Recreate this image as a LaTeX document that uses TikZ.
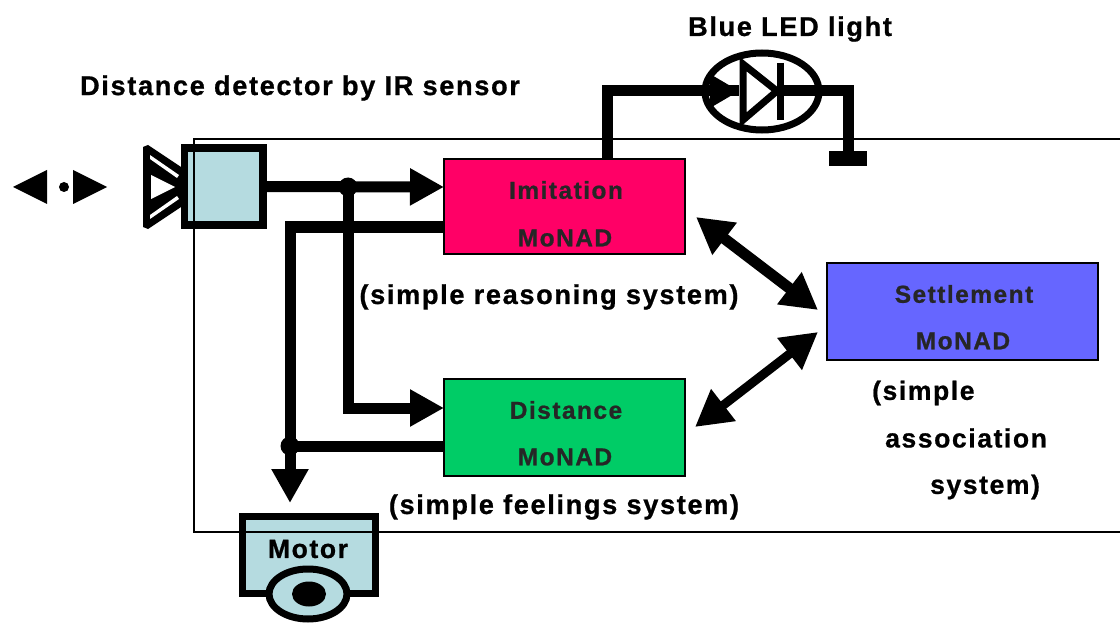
\documentclass[tikz,border=0pt]{standalone}
\usepackage{fontspec}
\setmainfont{Liberation Sans}[LetterSpace=6,BoldFeatures={FakeBold=0.8}]
\usetikzlibrary{arrows.meta,calc,positioning,shapes.geometric}
\definecolor{imitred}{rgb}{1.0, 0.0, 0.40}
\definecolor{distgreen}{rgb}{0.0, 0.80, 0.40}
\definecolor{settleblue}{rgb}{0.40, 0.40, 1.0}
\definecolor{palecyan}{rgb}{0.71, 0.86, 0.88}
\tikzstyle{monad} = [rectangle, draw=black, line width=1.3pt, inner sep=0pt]
\tikzstyle{lbl} = [inner sep=0pt, font=\bfseries\fontsize{26.5}{26.5}\selectfont, text=black]
\tikzstyle{lblwide} = [inner sep=0pt, font=\bfseries\fontsize{27.2}{27.2}\selectfont, text=black]
\tikzstyle{lblbox} = [inner sep=0pt, font=\bfseries\fontsize{24.5}{24.5}\selectfont, text=black!85]
\tikzstyle{wire} = [line width=11pt]
\tikzstyle{wirearrow} = [line width=11pt,-{Triangle[length=34pt,width=35pt]}]
\tikzstyle{twoway} = [line width=11pt,{Triangle[length=36pt,width=38pt]}-{Triangle[length=36pt,width=38pt]}]
\begin{document}
\begin{tikzpicture}[x=1pt,y=-1pt]
\useasboundingbox (0,0) rectangle (1120,623);
%boxes
\draw (564.5,206.5) node (imit) [monad, fill=imitred, minimum width=241pt, minimum height=95pt] {};
\draw (564.5,427.5) node (dist) [monad, fill=distgreen, minimum width=241pt, minimum height=97pt] {};
\draw (962.5,311.5) node (settle) [monad, fill=settleblue, minimum width=271pt, minimum height=97pt] {};
%sensor
\fill[black] (143,147)--(148,145)--(184,169)--(184,205)--(148,229)--(143,227)--cycle;
\fill[white] (150,159)--(177,178)--(179,175)--(150,155)--cycle;
\fill[white] (150,215)--(177,196)--(179,199)--(150,219)--cycle;
\fill[white] (151,175)--(151,199)--(175,187)--cycle;
\draw (223.5,186.5) node (sensor) [rectangle, draw=black, line width=7.5pt, fill=palecyan, inner sep=0pt, minimum width=78.5pt, minimum height=77pt] {};
%motor
\draw (309,555) node (motor) [rectangle, draw=black, line width=7pt, fill=palecyan, inner sep=0pt, minimum width=133pt, minimum height=77pt] {};
\draw (308,594) node (wheel) [ellipse, draw=black, line width=7pt, fill=palecyan, inner sep=0pt, minimum width=78pt, minimum height=50pt] {};
\draw (309,594) node (hub) [ellipse, fill=black, inner sep=0pt, minimum width=34pt, minimum height=25pt] {};
%frame
\draw[line width=1.3pt] (1120,139)--(194,139)--(194,532)--(1120,532);
%left marks
\fill (13,187)--(47,170)--(47,204)--cycle;
\fill (64,187) circle(5);
\fill (107,187)--(73,170)--(73,204)--cycle;
%route points
\coordinate (sj) at (348,187);
\coordinate (imitin) at (444,187);
\coordinate (sk) at (348,408);
\coordinate (distin) at (444,408);
\coordinate (imitout) at (444,227);
\coordinate (mk) at (290,227);
\coordinate (mj) at (290,446);
\coordinate (distout) at (444,446);
\coordinate (mtip) at (290,503);
\coordinate (ledup) at (607,159);
\coordinate (ledk) at (607,91);
\coordinate (ledin) at (739,91);
\coordinate (ledout) at (780,91);
\coordinate (gndk) at (848,91);
\coordinate (gnd) at (848,155);
\coordinate (imitx) at (696,217);
\coordinate (settlea) at (818,310);
\coordinate (distx) at (695,427);
\coordinate (settleb) at (818,332);
%wires
\draw[wirearrow] (sensor.east)--(imitin);
\draw[wirearrow,line join=miter] (sj)--(sk)--(distin);
\draw[wire,line join=miter] (imitout)--(mk)--(mj);
\draw[wirearrow] (mj)--(mtip);
\draw[wire] (distout)--(mj);
\fill (sj) circle(9.5);
\fill (mj) circle(9.5);
\draw[twoway] (imitx)--(settlea);
\draw[twoway,line width=9pt] (distx)--(settleb);
%led
\draw[wire,line join=miter] (ledup)--(ledk)--(ledin);
\draw[wire,line join=miter] (ledout)--(gndk)--(gnd);
\draw (829,151) node (gndbar) [rectangle, fill=black, anchor=north west, inner sep=0pt, minimum width=38pt, minimum height=15pt] {};
\draw (762,91.5) node (led) [ellipse, draw=black, line width=7pt, inner sep=0pt, minimum width=114pt, minimum height=77pt] {};
\fill (710,74)--(739,91)--(710,108)--cycle;
\draw[line width=7pt,line join=miter,fill=white] (743,64)--(743,120)--(777,91)--cycle;
\draw[line width=7pt] (780,63)--(780,120);
%labels
\node (dtitle) at (300,88) [lblwide] {Distance detector by IR sensor};
\node (ltitle) at (790,29) [lblwide] {Blue LED light};
\node (imita) at (566,190) [lblbox] {Imitation};
\node (imitb) at (565,238) [lblbox] {MoNAD};
\node (imitc) at (549,297) [lblwide] {(simple reasoning system)};
\node (dista) at (566,410) [lblbox] {Distance};
\node (distb) at (565,457) [lblbox] {MoNAD};
\node (distc) at (564,507) [lblwide] {(simple feelings system)};
\node (settlec) at (964,294) [lblbox] {Settlement};
\node (settled) at (963,341) [lblbox] {MoNAD};
\node (assoca) at (872,393) [lbl, anchor=west] {(simple};
\node (assocb) at (885,438) [lbl, anchor=west] {association};
\node (assocc) at (930,487) [lbl, anchor=west] {system)};
\node (motort) at (308,549) [lbl] {Motor};
\end{tikzpicture}
\end{document}
